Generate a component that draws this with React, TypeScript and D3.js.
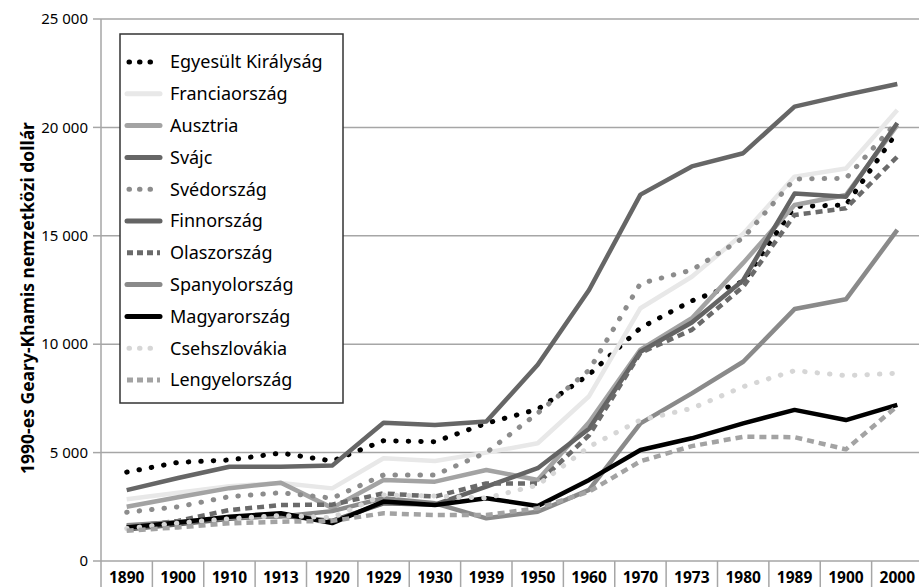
import React from "react";
import * as d3 from "d3";

// categories as printed (the second "1900" is a typo in the source, kept as-is)
const years = ["1890", "1900", "1910", "1913", "1920", "1929", "1930", "1939", "1950", "1960", "1970", "1973", "1980", "1989", "1900", "2000"];
const yTicks = [0, 5000, 10000, 15000, 20000, 25000];

const egyesultKiralysag = [4100, 4550, 4660, 4980, 4610, 5550, 5500, 6350, 7000, 8600, 10750, 12000, 12900, 16350, 16420, 19800];
const franciaorszag = [2850, 3150, 3450, 3600, 3350, 4740, 4610, 5000, 5430, 7600, 11660, 13110, 15100, 17730, 18100, 20800];
const ausztria = [2500, 2940, 3360, 3610, 2450, 3740, 3660, 4200, 3740, 6400, 9750, 11200, 13750, 16420, 16880, 20100];
const svajc = [3270, 3830, 4350, 4350, 4400, 6380, 6270, 6430, 9050, 12500, 16900, 18200, 18810, 20960, 21500, 22000];
const svedorszag = [2250, 2500, 2970, 3150, 2900, 3970, 3970, 5000, 6820, 8800, 12800, 13420, 14900, 17620, 17650, 20270];
const finnorszag = [1450, 1700, 1950, 2100, 1850, 2660, 2600, 3430, 4280, 6100, 9650, 11000, 12950, 16950, 16800, 20200];
const olaszorszag = [1580, 1850, 2350, 2580, 2600, 3120, 2970, 3580, 3580, 5800, 9600, 10660, 12650, 15960, 16270, 18650];
const spanyolorszag = [1650, 1800, 2000, 2050, 2300, 2900, 2660, 1970, 2270, 3280, 6350, 7730, 9190, 11620, 12070, 15270];
const magyarorszag = [1540, 1780, 2040, 2200, 1750, 2740, 2580, 2890, 2540, 3740, 5120, 5660, 6350, 6970, 6500, 7200];
const csehszlovakia = [1500, 1750, 1950, 2100, 2000, 3050, 3000, 2900, 3500, 5270, 6500, 7040, 8040, 8780, 8550, 8660];
const lengyelorszag = [1400, 1550, 1740, 1810, 1850, 2200, 2120, 2120, 2430, 3200, 4600, 5300, 5730, 5710, 5150, 7150];

const series = [
  { name: "Egyesült Királyság", values: egyesultKiralysag, color: "#000000", style: "dot" },
  { name: "Franciaország", values: franciaorszag, color: "#e8e8e8", style: "solid" },
  { name: "Ausztria", values: ausztria, color: "#a3a3a3", style: "solid" },
  { name: "Svájc", values: svajc, color: "#666666", style: "solid" },
  { name: "Svédország", values: svedorszag, color: "#8c8c8c", style: "dot" },
  { name: "Finnország", values: finnorszag, color: "#646464", style: "solid" },
  { name: "Olaszország", values: olaszorszag, color: "#6a6a6a", style: "dash" },
  { name: "Spanyolország", values: spanyolorszag, color: "#8a8a8a", style: "solid" },
  { name: "Magyarország", values: magyarorszag, color: "#000000", style: "solid" },
  { name: "Csehszlovákia", values: csehszlovakia, color: "#d6d6d6", style: "dot" },
  { name: "Lengyelország", values: lengyelorszag, color: "#a3a3a3", style: "dash" },
];

const W = 919, H = 587;
const margin = { top: 19, right: -4, bottom: 26, left: 101 };
const font = "'Noto Sans', 'Open Sans', sans-serif";

function dashFor(style: string) {
  if (style === "dot") return { dash: "0.5 12", cap: "round" as const };
  if (style === "dash") return { dash: "7 5", cap: "butt" as const };
  return { dash: undefined, cap: "butt" as const };
}

export default function App() {
  const x = d3.scaleBand<number>()
    .domain(d3.range(years.length))
    .range([margin.left, W - margin.right]);
  const y = d3.scaleLinear()
    .domain([0, 25000])
    .range([H - margin.bottom, margin.top]);
  const cx = (i: number) => (x(i) as number) + x.bandwidth() / 2;
  const fmt = (v: number) => d3.format(",")(v).replace(/,/g, " ");

  const line = d3.line<number>()
    .x((_, i) => cx(i))
    .y(d => y(d));

  const legendX = 120, legendY = 34, legendW = 223, legendH = 369;
  const rowH = 31.8;

  return (
    <svg width={W} height={H} style={{ position: "absolute", left: 0, top: 0, background: "#fff" }} fontFamily={font}>
      {/* grid + y ticks */}
      {yTicks.map(t => (
        <g key={t}>
          {t > 0 && <line x1={margin.left} x2={W} y1={y(t)} y2={y(t)} stroke="#a6a6a6" strokeWidth={1.5} />}
          <line x1={margin.left - 8} x2={margin.left} y1={y(t)} y2={y(t)} stroke="#a6a6a6" strokeWidth={1.5} />
          <text x={margin.left - 13} y={y(t)} dy="0.35em" textAnchor="end" fontSize={15} fill="#000">{fmt(t)}</text>
        </g>
      ))}
      <line x1={margin.left} x2={margin.left} y1={margin.top} y2={H} stroke="#a6a6a6" strokeWidth={1.5} />
      <line x1={margin.left} x2={W} y1={y(0)} y2={y(0)} stroke="#a6a6a6" strokeWidth={1.5} />

      {/* category separators and labels */}
      {years.map((yr, i) => (
        <g key={i}>
          {i > 0 && <line x1={x(i)} x2={x(i)} y1={y(0)} y2={H} stroke="#a6a6a6" strokeWidth={1.5} />}
          <text x={cx(i)} y={H - 4} textAnchor="middle" fontSize={15.5} fontWeight="bold" fill="#000">{yr}</text>
        </g>
      ))}

      <text transform={`translate(34,${(margin.top + y(0)) / 2 + 8}) rotate(-90)`} textAnchor="middle"
        fontSize={17.5} fontWeight="bold" fill="#000">1990-es Geary-Khamis nemzetközi dollár</text>

      {/* lines */}
      {series.map(s => {
        const d = dashFor(s.style);
        return (
          <path key={s.name} d={line(s.values) || ""} fill="none" stroke={s.color}
            strokeWidth={s.style === "dot" ? 5 : 4.5} strokeDasharray={d.dash} strokeLinecap={d.cap}
            strokeLinejoin="round" />
        );
      })}

      {/* legend */}
      <rect x={legendX} y={legendY} width={legendW} height={legendH} fill="#fff" stroke="#333" strokeWidth={1.5} />
      {series.map((s, i) => {
        const ly = legendY + 28 + i * rowH;
        return (
          <g key={s.name}>
            <line x1={s.style === "dot" ? 129 : 127} x2={s.style === "dot" ? 158 : 160} y1={ly} y2={ly}
              stroke={s.color} strokeWidth={5} strokeDasharray={s.style === "dot" ? "0.5 10" : s.style === "dash" ? "6 4" : undefined}
              strokeLinecap={s.style === "dash" ? "butt" : "round"} />
            <text x={170} y={ly} dy="0.35em" fontSize={18} fill="#000">{s.name}</text>
          </g>
        );
      })}
    </svg>
  );
}
